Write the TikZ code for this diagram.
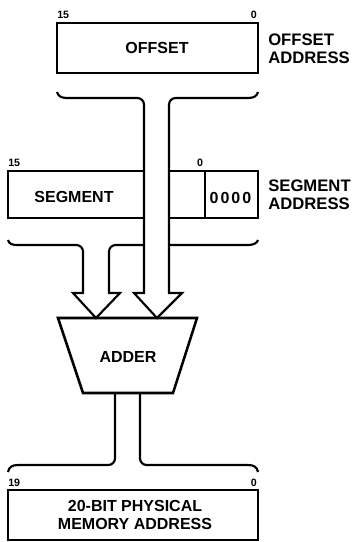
\documentclass[tikz,border=0pt]{standalone}
\usepackage{fontspec}
\setmainfont{Liberation Sans}
\begin{document}
\begin{tikzpicture}[x=0.75pt,y=-0.75pt,
  boxline/.style={line width=1.9pt, line join=miter},
  wire/.style={line width=1.6pt, line join=miter},
  lbl/.style={font=\bfseries\fontsize{12}{13}\selectfont, inner sep=0pt},
  sidelbl/.style={font=\bfseries\fontsize{12.5}{13}\selectfont, inner sep=0pt, anchor=north west, align=left},
  bit/.style={font=\bfseries\fontsize{8}{9}\selectfont, inner sep=0pt}]
\useasboundingbox (0,0) rectangle (355,542);

% offset register
\draw[boxline] (57,23) rectangle (258,73);
\node[lbl] (off) at (157,48) {OFFSET};
\node[bit, anchor=base west] (off15) at (57,19) {15};
\node[bit, anchor=base east] (off0) at (257,19) {0};
\node[sidelbl] (offaddr) at (268,34) {OFFSET\\ADDRESS};

% segment register
\draw[boxline] (144,171) -- (8,171) -- (8,218) -- (144,218);
\draw[boxline] (169,171) -- (258,171) -- (258,218) -- (169,218);
\draw[boxline] (205,171) -- (205,218);
\node[lbl] (seg) at (74,197) {SEGMENT};
\node[lbl] (zeros) at (230.5,198) {0\hspace{1.5pt}0\hspace{1.5pt}0\hspace{1.5pt}0};
\node[bit, anchor=base west] (seg15) at (8,166) {15};
\node[bit, anchor=base] (seg0) at (200,166) {0};
\node[sidelbl] (segaddr) at (268,180) {SEGMENT\\ADDRESS};

% offset brace and shaft
\draw[wire] (57,92) .. controls (58,96) and (61,98) .. (67,98)
  [rounded corners=5pt] -- (144,98) -- (144,140) [sharp corners]
  -- (144,293) -- (134,293) -- (157,318) -- (182,293) -- (169,293) -- (169,140)
  [rounded corners=5pt] -- (169,98) -- (230,98) [sharp corners]
  -- (248,98) .. controls (254,98) and (257,96) .. (258,92);

% segment brace and shaft
\draw[wire] (8,240) .. controls (9,244) and (12,245) .. (18,245)
  [rounded corners=5pt] -- (83,245) -- (83,270) [sharp corners]
  -- (83,293) -- (73,293) -- (96,318) -- (120,293) -- (109,293) -- (109,270)
  [rounded corners=5pt] -- (109,245) -- (130,245) [sharp corners] -- (144,245);
\draw[wire] (169,245) -- (248,245) .. controls (254,245) and (257,243) .. (258,240);

% adder
\draw[boxline] (58,318) -- (197,318) -- (173,393) -- (83,393) -- cycle;
\node[lbl] (adder) at (128,357) {ADDER};

% output shaft and brace
\draw[wire] (8,472) .. controls (9,467) and (12,465) .. (18,465)
  [rounded corners=5pt] -- (115,465) -- (115,440) [sharp corners] -- (115,393);
\draw[wire] (140,393) -- (140,440)
  [rounded corners=5pt] -- (140,465) -- (200,465) [sharp corners]
  -- (248,465) .. controls (254,465) and (257,467) .. (258,472);

% physical address
\draw[boxline] (8,490) rectangle (258,540);
\node[bit, anchor=base west] (phy19) at (8,486) {19};
\node[bit, anchor=base east] (phy0) at (257,486) {0};
\node[lbl, align=center, font=\bfseries\fontsize{12}{13.5}\selectfont] (phys) at (135,515) {20-BIT PHYSICAL\\MEMORY ADDRESS};
\end{tikzpicture}
\end{document}
